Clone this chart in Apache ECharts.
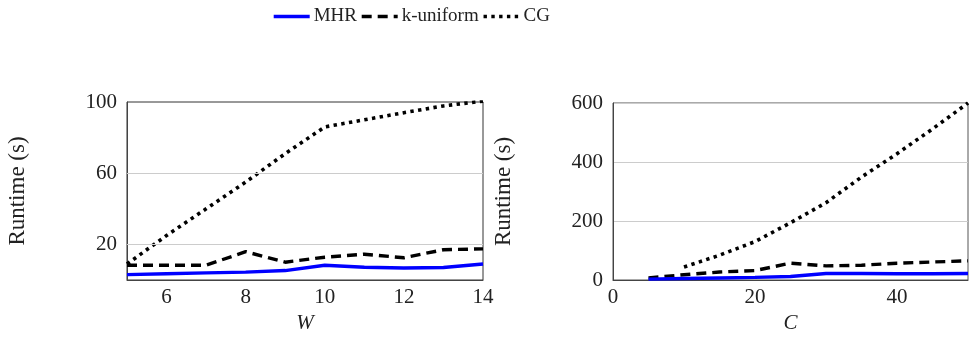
<!DOCTYPE html>
<html><head><meta charset="utf-8">
<script src="https://cdn.jsdelivr.net/npm/echarts@6/dist/echarts.min.js"></script>
<style>html,body{margin:0;padding:0;background:#fff}#c{width:973px;height:340px}</style>
</head><body><div id="c"></div>
<script>
const seriesNames = ['MHR', 'k-uniform', 'CG'];
const wValues = [5, 6, 7, 8, 9, 10, 11, 12, 13, 14];
const mhrW = [3, 3.5, 4, 4.4, 5.3, 8.3, 7.2, 6.7, 7, 9];
const kuniW = [8.3, 8.3, 8.3, 15.9, 10, 12.8, 14.5, 12.5, 17, 17.5];
const cgW = [9, 25, 40, 55, 71, 86, 90, 94, 97.8, 100.5];
const cValues = [5, 10, 15, 20, 25, 30, 35, 40, 45, 50];
const mhrC = [3, 5, 7, 9, 12, 22, 22, 21, 21, 22];
const kuniC = [7, 18, 27, 32, 57, 48, 50, 57, 61, 65];
const cgC = [null, 44, 84, 130, 194, 262, 349, 428, 512, 600];
const xTicksW = [6, 8, 10, 12, 14];
const xTicksC = [0, 20, 40];
const yTicksW = [20, 60, 100];
const yGridW = [20, 60];

const font = 'Liberation Serif';
const pair = (xs, ys) => xs.map((x, i) => [x, ys[i]]);
const styles = [
  {color: '#0000ff', width: 3.4, type: 'solid'},
  {color: '#000', width: 3.4, type: [10, 6]},
  {color: '#000', width: 3.6, type: [3.4, 4.4]}
];
function mk(name, idx, data, gi, extra) {
  return Object.assign({
    name, type: 'line', xAxisIndex: gi, yAxisIndex: gi, data,
    showSymbol: false, symbol: 'none', connectNulls: false,
    lineStyle: Object.assign({cap: 'butt'}, styles[idx]), itemStyle: {color: styles[idx].color},
    z: 3 - idx, animation: false
  }, extra || {});
}
const axisLineStyle = {show: true, lineStyle: {color: '#444', width: 1}};
const lbl = {fontFamily: font, fontSize: 21, color: '#222'};
const nameStyle = {fontFamily: font, fontSize: 23, color: '#222'};
const option = {
  animation: false,
  legend: {
    top: 7, left: 272, padding: 0, itemWidth: 36, itemHeight: 14, itemGap: 3,
    itemStyle: {opacity: 0},
    textStyle: {fontFamily: font, fontSize: 19, color: '#222', padding: [0, 0, 0, -1]},
    data: seriesNames.map((n, i) => ({
      name: n,
      lineStyle: {width: styles[i].width, type: styles[i].type, color: styles[i].color, cap: 'butt'}
    }))
  },
  grid: [
    {left: 127, right: 490, top: 102, bottom: 60, show: true, borderColor: '#333', borderWidth: 1},
    {left: 613, right: 5, top: 103, bottom: 60, show: true, borderColor: '#555', borderWidth: 1}
  ],
  xAxis: [
    {gridIndex: 0, type: 'value', min: 5, max: 14, interval: 1, axisLine: axisLineStyle,
     axisTick: {show: false}, splitLine: {show: false},
     axisLabel: Object.assign({margin: 7, customValues: xTicksW}, lbl),
     name: 'W', nameLocation: 'middle', nameGap: 33,
     nameTextStyle: Object.assign({}, lbl, {fontStyle: 'italic'})},
    {gridIndex: 1, type: 'value', min: 0, max: 50, interval: 10, axisLine: axisLineStyle,
     axisTick: {show: false}, splitLine: {show: false},
     axisLabel: Object.assign({margin: 7, customValues: xTicksC}, lbl),
     name: 'C', nameLocation: 'middle', nameGap: 33,
     nameTextStyle: Object.assign({}, lbl, {fontStyle: 'italic'})}
  ],
  yAxis: [
    {gridIndex: 0, type: 'value', min: 0, max: 100, interval: 20, axisLine: axisLineStyle,
     axisTick: {show: false}, splitLine: {show: false},
     axisLabel: Object.assign({margin: 10, customValues: yTicksW}, lbl),
     name: 'Runtime (s)', nameLocation: 'middle', nameGap: 98, nameRotate: 90,
     nameTextStyle: nameStyle},
    {gridIndex: 1, type: 'value', min: 0, max: 600, interval: 200, axisLine: axisLineStyle,
     axisTick: {show: false}, splitLine: {show: true, lineStyle: {color: '#cccccc', width: 1}},
     axisLabel: Object.assign({margin: 10}, lbl),
     name: 'Runtime (s)', nameLocation: 'middle', nameGap: 98, nameRotate: 90,
     nameTextStyle: nameStyle}
  ],
  series: [
    mk('MHR', 0, pair(wValues, mhrW), 0, {
      markLine: {silent: true, symbol: 'none', label: {show: false}, animation: false,
        lineStyle: {color: '#cccccc', width: 1, type: 'solid'},
        data: yGridW.map(v => ({yAxis: v}))}
    }),
    mk('k-uniform', 1, pair(wValues, kuniW), 0),
    mk('CG', 2, pair(wValues, cgW), 0),
    mk('MHR', 0, pair(cValues, mhrC), 1),
    mk('k-uniform', 1, pair(cValues, kuniC), 1),
    mk('CG', 2, pair(cValues, cgC), 1)
  ]
};
const chart = echarts.init(document.getElementById('c'), null, {renderer: 'canvas'});
chart.setOption(option);
</script></body></html>
